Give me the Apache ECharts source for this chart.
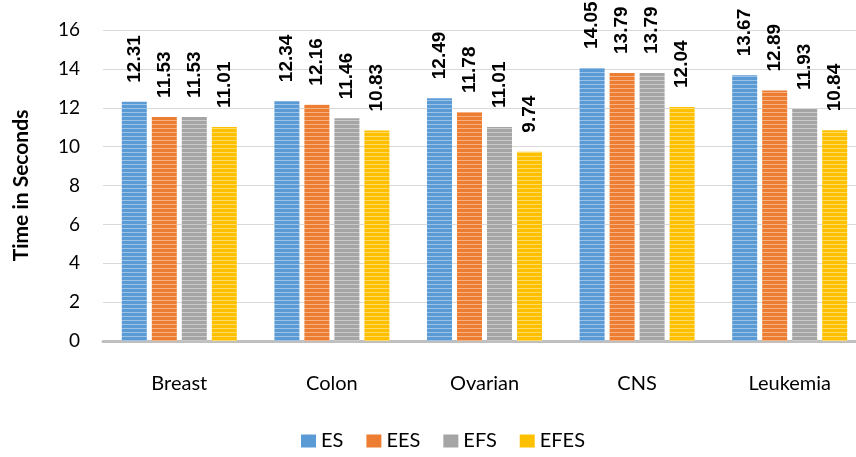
<!DOCTYPE html>
<html>
<head>
<meta charset="utf-8">
<script src="https://cdn.jsdelivr.net/npm/echarts@6/dist/echarts.min.js"></script>
<style>
  html, body { margin: 0; padding: 0; background: #fff; overflow: hidden; }
  #chart { width: 866px; height: 457px; }
</style>
</head>
<body>
<div id="chart"></div>
<script>
// data
var categories = ['Breast', 'Colon', 'Ovarian', 'CNS', 'Leukemia'];
var seriesNames = ['ES', 'EES', 'EFS', 'EFES'];
var esValues   = [12.31, 12.34, 12.49, 14.05, 13.67];
var eesValues  = [11.53, 12.16, 11.78, 13.79, 12.89];
var efsValues  = [11.53, 11.46, 11.01, 13.79, 11.93];
var efesValues = [11.01, 10.83, 9.74, 12.04, 10.84];
var yTicks = [0, 2, 4, 6, 8, 10, 12, 14, 16];

var baseColors = ['#5B9BD5', '#ED7D31', '#A5A5A5', '#FFC000'];
var lightColors = ['#9CC3E6', '#F4B183', '#C9C9C9', '#FFD966'];

// horizontal stripe texture like the excel fill
function stripes(base, light) {
    var c = document.createElement('canvas');
    c.width = 4; c.height = 4;
    var ctx = c.getContext('2d');
    ctx.fillStyle = base;
    ctx.fillRect(0, 0, 4, 4);
    ctx.fillStyle = light;
    ctx.fillRect(0, 0, 4, 1);
    return { image: c, repeat: 'repeat' };
}

var allValues = [esValues, eesValues, efsValues, efesValues];
var uiFont = 'Lato, Noto Sans, sans-serif';

var chart = echarts.init(document.getElementById('chart'));

var series = seriesNames.map(function (name, i) {
    return {
        name: name,
        type: 'bar',
        data: allValues[i],
        barWidth: 25,
        barGap: '20%',
        itemStyle: { color: stripes(baseColors[i], lightColors[i]) },
        label: {
            show: true,
            position: 'top',
            rotate: 90,
            align: 'left',
            verticalAlign: 'middle',
            distance: 19,
            formatter: function (p) { return p.value.toFixed(2); },
            fontFamily: 'Arial',
            fontWeight: 'bold',
            fontSize: 19,
            color: '#000'
        }
    };
});

chart.setOption({
    animation: false,
    backgroundColor: '#fff',
    grid: { left: 103, top: 30, right: 0, height: 311 },
    legend: {
        data: seriesNames.map(function (n, i) {
            return { name: n, itemStyle: { color: baseColors[i] } };
        }),
        bottom: 1,
        left: 296,
        icon: 'rect',
        itemWidth: 15,
        itemHeight: 13,
        itemGap: 23,
        textStyle: { fontFamily: uiFont, fontSize: 20, color: '#000' }
    },
    xAxis: {
        type: 'category',
        data: categories,
        axisLine: { lineStyle: { color: '#BFBFBF', width: 3 } },
        axisTick: { show: false },
        axisLabel: {
            margin: 33,
            fontFamily: uiFont,
            fontSize: 20,
            color: '#000'
        }
    },
    yAxis: {
        type: 'value',
        min: yTicks[0],
        max: yTicks[yTicks.length - 1],
        interval: 2,
        name: 'Time in Seconds',
        nameLocation: 'middle',
        nameGap: 71,
        nameTextStyle: {
            fontFamily: uiFont,
            fontWeight: 'bold',
            fontSize: 21,
            color: '#000'
        },
        axisLine: { show: false },
        axisTick: { show: false },
        axisLabel: {
            margin: 23,
            fontFamily: uiFont,
            fontSize: 19,
            color: '#000'
        },
        splitLine: { lineStyle: { color: '#D9D9D9', width: 1 } }
    },
    series: series
});
</script>
</body>
</html>
